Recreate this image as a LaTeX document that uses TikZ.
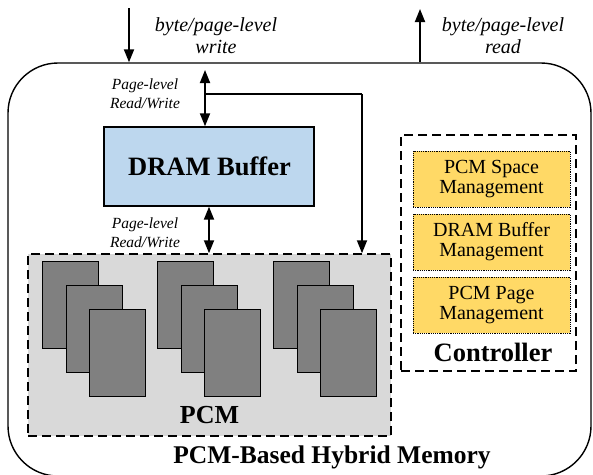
\documentclass[tikz,border=0pt]{standalone}
\usepackage{fontspec}
\setmainfont{Liberation Serif}
\usetikzlibrary{arrows.meta}
\definecolor{dramblue}{HTML}{BDD7EE}
\definecolor{pcmgray}{HTML}{D9D9D9}
\definecolor{chipgray}{HTML}{808080}
\definecolor{mgmtyellow}{HTML}{FFD966}
\begin{document}
\begin{tikzpicture}[x=1pt,y=-1pt,
  arr/.style={line width=1.8pt,-{Triangle[width=10pt,length=13pt]}},
  darr/.style={line width=1.8pt,{Triangle[width=10pt,length=13pt]}-{Triangle[width=10pt,length=13pt]}},
  plainline/.style={line width=1.8pt},
  outerbox/.style={draw,line width=1.4pt,rounded corners=50pt,inner sep=0pt},
  drambox/.style={draw,line width=1.4pt,fill=dramblue,inner sep=0pt,font=\fontsize{26.5}{30}\selectfont\bfseries},
  dashbox/.style={draw,line width=1.5pt,dash pattern=on 9pt off 5pt,inner sep=0pt},
  chip/.style={draw,line width=1.2pt,fill=chipgray,minimum width=56pt,minimum height=87pt,inner sep=0pt,anchor=north west},
  mgmt/.style={draw,line width=0.8pt,dash pattern=on 1.2pt off 1pt,fill=mgmtyellow,minimum width=157pt,minimum height=56pt,inner sep=0pt,align=center,font=\fontsize{20}{20}\selectfont},
  biglabel/.style={font=\fontsize{26.5}{30}\selectfont\bfseries,anchor=base,inner sep=0pt},
  iolabel/.style={align=center,inner sep=0pt,font=\fontsize{20}{22}\selectfont\itshape},
  rwlabel/.style={align=center,inner sep=0pt,font=\fontsize{15.5}{19}\selectfont\itshape}
]
\useasboundingbox (0,0) rectangle (593,474);
\begin{scope}
\clip (0,0) rectangle (593,474);
\node[outerbox,minimum width=583pt,minimum height=413pt] (outer) at (299.5,269.5) {};
\end{scope}

% DRAM buffer
\node[drambox,minimum width=210pt,minimum height=79pt] (dram) at (209,166.5) {};
\node[biglabel] (dramtxt) at (209.5,175) {DRAM Buffer};

% PCM
\node[dashbox,fill=pcmgray,minimum width=363pt,minimum height=182pt] (pcm) at (209.5,345) {};
\foreach \g/\gx in {1/42,2/157,3/273}{
  \node[chip] (chip\g a) at (\gx,261) {};
  \node[chip] (chip\g b) at (\gx+23.5,285) {};
  \node[chip] (chip\g c) at (\gx+47,309) {};
}
\node[biglabel,font=\fontsize{26}{30}\selectfont\bfseries] (pcmtxt) at (209.5,423) {PCM};

% Controller
\node[dashbox,minimum width=175pt,minimum height=236pt] (ctrl) at (488.5,253) {};
\node[mgmt] (m1) at (491.5,179) {PCM Space\\Management};
\node[mgmt] (m2) at (491.5,242) {DRAM Buffer\\Management};
\node[mgmt] (m3) at (491.5,305) {PCM Page\\Management};
\node[biglabel] (ctrltxt) at (493,361) {Controller};

% bottom title
\node[biglabel,font=\fontsize{25.5}{30}\selectfont\bfseries] (title) at (332,463) {PCM-Based Hybrid Memory};

% external I/O
\coordinate (wsrc) at (129,8);
\coordinate (rdst) at (420,9);
\draw[arr] (wsrc) -- (wsrc |- outer.north);
\draw[arr] (rdst |- outer.north) -- (rdst);
\node[iolabel] (wlab) at (216,36) {byte/page-level\\write};
\node[iolabel] (rlab) at (503,36) {byte/page-level\\read};

% internal connectors
\coordinate (dtop) at (205,70);
\coordinate (br) at (205,94);
\coordinate (cx) at (362,94);
\draw[darr] (dtop) -- (dtop |- dram.north);
\draw[plainline] (br) -- (cx);
\draw[arr] (cx) -- (cx |- pcm.north);
\draw[darr] (dram.south) -- (dram.south |- pcm.north);
\node[rwlabel] (rw1) at (145,93.5) {Page-level\\Read/Write};
\node[rwlabel] (rw2) at (145,232.5) {Page-level\\Read/Write};
\end{tikzpicture}
\end{document}
